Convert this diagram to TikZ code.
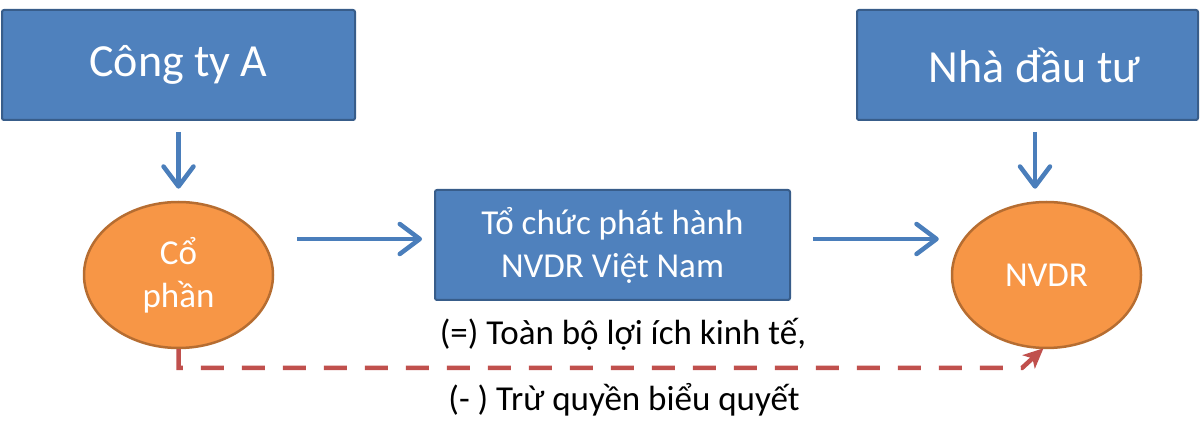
\documentclass[tikz,border=0pt]{standalone}
\usepackage{fontspec}
\setmainfont{Carlito}
\usetikzlibrary{shapes.geometric,arrows.meta,calc}
\definecolor{boxfill}{HTML}{4F81BD}
\definecolor{boxline}{HTML}{385D8A}
\definecolor{ellfill}{HTML}{F79646}
\definecolor{ellline}{HTML}{B66D31}
\definecolor{arrblue}{HTML}{4A7EBB}
\definecolor{arrred}{HTML}{C0504D}
\tikzset{
  bigbox/.style={draw=boxline, fill=boxfill, line width=2pt, rounded corners=2pt,
    text=white, inner sep=0pt, align=center},
  ellnode/.style={ellipse, draw=ellline, fill=ellfill, line width=2.5pt,
    minimum width=189pt, minimum height=146pt, inner sep=0pt, text=white, align=center,
    font=\fontsize{35}{43}\selectfont},
  bluearr/.style={draw=arrblue, line width=4.5pt,
    -{Straight Barb[length=20pt,width=30pt,line cap=round,line join=round]}},
  reddash/.style={draw=arrred, line width=4.5pt, dash pattern=on 23pt off 18pt,
    -{Stealth[length=20pt,width=18pt,inset=5pt]}},
  lbl/.style={text=black, inner sep=0pt, font=\fontsize{35}{42}\selectfont}
}
\begin{document}
\begin{tikzpicture}[x=1pt,y=-1pt]
\useasboundingbox (0,0) rectangle (1200,443);
\node[bigbox, minimum width=353pt, minimum height=110pt,
  font=\fontsize{46}{52}\selectfont] (ca) at (178.5,65) {Công ty A};
\node[bigbox, minimum width=341pt, minimum height=110pt,
  font=\fontsize{46}{52}\selectfont] (ndt) at (1027.5,65) {\hspace*{14pt}Nhà đầu tư};
\node[bigbox, minimum width=355pt, minimum height=110pt,
  font=\fontsize{35}{43}\selectfont] (mid) at (612.5,245) {Tổ chức phát hành\\NVDR Việt Nam};
\node[ellnode] (cp) at (178.5,275) {Cổ\\phần};
\node[ellnode] (nv) at (1046.5,275) {NVDR};
\node[lbl] (l1) at (623,334) {(=) Toàn bộ lợi ích kinh tế,};
\node[lbl] (l2) at (624,400) {(- ) Trừ quyền biểu quyết};
\coordinate (bend) at (1022,368);
\draw[bluearr] ([yshift=-11pt]ca.south) -- ([yshift=12pt]cp.north);
\draw[bluearr] ([yshift=-11pt]ndt.south -| 1035,0) -- ([yshift=12pt]nv.north -| 1035,0);
\draw[bluearr] ($(cp.east)+(23,-36)$) -- ($(mid.west)+(-12,-6)$);
\draw[bluearr] ($(mid.east)+(22,-6)$) -- ($(nv.west)+(-12,-36)$);
\draw[reddash] (cp.south) |- (bend) -- ([xshift=-3pt,yshift=1pt]nv.south);
\end{tikzpicture}
\end{document}
